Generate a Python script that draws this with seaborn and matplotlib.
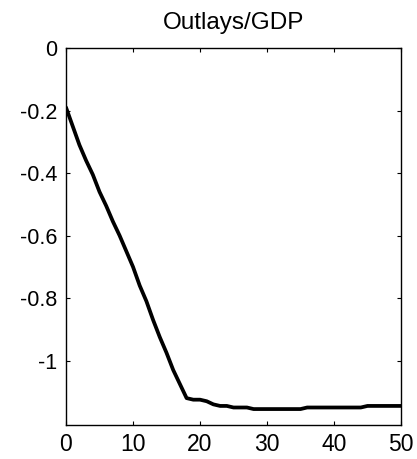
import matplotlib
matplotlib.use("Agg")
import matplotlib.pyplot as plt
import seaborn as sns
import pandas as pd

horizon = list(range(0, 51))
outlays_gdp = [
    -0.19, -0.25, -0.31, -0.36, -0.405, -0.46, -0.505, -0.555, -0.60, -0.65,
    -0.70, -0.76, -0.81, -0.87, -0.925, -0.975, -1.03, -1.075, -1.12, -1.125,
    -1.125, -1.13, -1.14, -1.145, -1.145, -1.15, -1.15, -1.15, -1.155, -1.155,
    -1.155, -1.155, -1.155, -1.155, -1.155, -1.155, -1.15, -1.15, -1.15, -1.15,
    -1.15, -1.15, -1.15, -1.15, -1.15, -1.145, -1.145, -1.145, -1.145, -1.145,
    -1.145,
]
x_ticks = [0, 10, 20, 30, 40, 50]
y_ticks = [0, -0.2, -0.4, -0.6, -0.8, -1]
y_tick_labels = ["0", "-0.2", "-0.4", "-0.6", "-0.8", "-1"]

sns.set_style("ticks")
plt.rcParams["font.family"] = ["Liberation Sans", "DejaVu Sans"]
plt.rcParams["text.color"] = "black"

df = pd.DataFrame({"h": horizon, "v": outlays_gdp})

fig = plt.figure(figsize=(4.17, 4.59), dpi=100)
ax = fig.add_axes([66/417, 34/459, (401-66)/417, (425-48)/459])
sns.lineplot(data=df, x="h", y="v", ax=ax, color="black", linewidth=2.7)
ax.set_xlim(0, 50)
ax.set_ylim(-1.206, 0)
ax.set_xticks(x_ticks)
ax.set_yticks(y_ticks)
ax.set_yticklabels(y_tick_labels)
ax.tick_params(direction="in", top=True, right=True, length=3,
               width=0.8, colors="black")
ax.tick_params(axis="x", labelsize=16.5, pad=5.5)
ax.tick_params(axis="y", labelsize=15.5, pad=6.5)
for s in ax.spines.values():
    s.set_visible(True)
    s.set_linewidth(1.0)
    s.set_color("black")
ax.set_xlabel("")
ax.set_ylabel("")
ax.set_title("Outlays/GDP", fontsize=17.5, pad=14, color="black")
fig.savefig("out.png", dpi=100)
